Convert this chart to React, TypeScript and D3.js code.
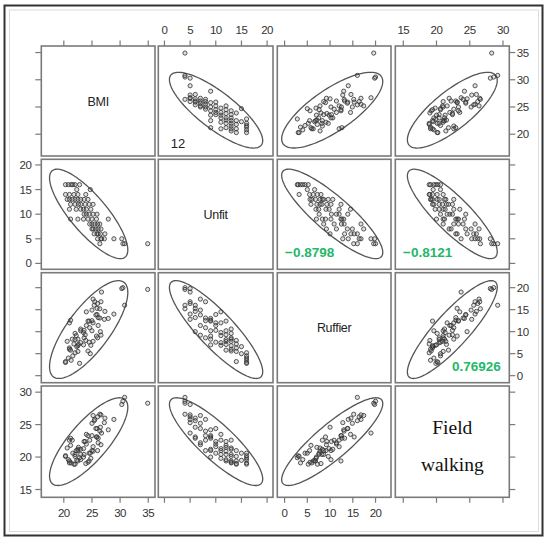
import React from "react";
import * as d3 from "d3";

// ---- data (one entry per subject) ----
const varNames = ["BMI", "Unfit", "Ruffier", "Field walking"];

const bmi = [
  34.9, 30.8, 30.5, 26.4,
  30.3, 26.7, 26.0, 28.9, 27.2, 26.6,
  25.4, 25.9, 26.5, 27.3, 26.1,
  25.2, 25.7, 26.1, 26.6, 25.0,
  25.0, 25.5, 26.0, 26.4, 24.6,
  21.2, 22.5, 23.5, 24.3, 25.0, 25.8, 27.9,
  23.6, 24.5, 25.2, 25.9, 24.0,
  21.0, 22.2, 23.0, 24.0, 24.8, 23.5,
  21.2, 22.0, 23.0, 23.8, 24.5, 25.2, 22.6,
  20.6, 21.0, 21.5, 22.0, 22.5, 23.0, 23.6, 24.3,
  20.3, 21.0, 21.8, 22.5, 23.9,
  24.7, 22.3,
  20.3, 20.8, 21.3, 22.0, 22.8, 21.6,
];

const unfit = [
  4, 4, 4, 4,
  5, 5, 5, 5, 5, 5,
  6, 6, 6, 6, 6,
  7, 7, 7, 7, 7,
  8, 8, 8, 8, 8,
  9, 9, 9, 9, 9, 9, 9,
  10, 10, 10, 10, 10,
  11, 11, 11, 11, 11, 11,
  12, 12, 12, 12, 12, 12, 12,
  13, 13, 13, 13, 13, 13, 13, 13,
  14, 14, 14, 14, 14,
  15, 15,
  16, 16, 16, 16, 16, 16,
];

const ruffier = [
  19.6, 16.0, 20.0, 15.2,
  19.8, 19.0, 16.4, 14.0, 12.8, 16.8,
  16.0, 15.3, 10.0, 14.6, 13.2,
  17.4, 13.8, 11.4, 9.2, 14.9,
  12.5, 16.8, 8.6, 13.1, 10.9,
  12.6, 8.3, 7.0, 12.4, 10.2, 9.0, 13.0,
  10.3, 7.6, 12.0, 13.9, 11.4,
  12.0, 9.1, 7.5, 14.5, 6.9, 9.8,
  5.8, 8.2, 10.2, 9.3, 12.4, 7.8, 7.1,
  7.8, 6.0, 8.3, 9.6, 6.8, 10.6, 8.6, 5.6,
  3.2, 6.3, 7.2, 5.5, 8.0,
  5.0, 6.6,
  3.0, 4.0, 3.5, 5.2, 2.8, 4.5,
];

const fieldWalking = [
  28.3, 29.2, 28.6, 26.6,
  28.1, 23.7, 26.2, 25.8, 25.3, 26.5,
  25.6, 23.1, 24.6, 26.0, 22.9,
  26.4, 24.4, 22.2, 21.9, 25.2,
  23.3, 25.8, 21.0, 24.0, 22.6,
  22.9, 21.2, 20.0, 23.3, 21.0, 23.1, 24.2,
  22.4, 20.6, 21.6, 24.4, 22.0,
  22.6, 21.0, 20.4, 23.5, 19.8, 21.3,
  21.8, 20.4, 19.6, 22.4, 19.4, 20.9, 21.5,
  21.4, 19.1, 22.6, 20.1, 19.4, 21.2, 20.4, 19.2,
  20.1, 19.4, 18.9, 21.0, 19.0,
  20.6, 19.5,
  20.2, 19.6, 19.1, 18.9, 19.9, 20.6,
];

const axisDomains = [
  [16.0, 36.2],
  [-1.2, 21.15],
  [-1.6, 23.4],
  [13.8, 30.95],
];

const tickValues = [
  [20, 25, 30, 35],
  [0, 5, 10, 15, 20],
  [0, 5, 10, 15, 20],
  [15, 20, 25, 30],
];

// correlation annotations
const corrRows = [1, 1, 2];
const corrCols = [2, 3, 3];
const corrTexts = ["\u22120.8798", "\u22120.8121", "0.76926"];

const pageNumber = "12";

// ---- layout ----
const W = 550;
const H = 544;
const colL = [41.3, 158.3, 277.3, 395.3];
const colR = [155, 273, 391, 509.3];
const rowT = [46, 159.3, 272.7, 386];
const rowB = [156, 269.3, 382.7, 497.3];

const columns = [bmi, unfit, ruffier, fieldWalking];
const n = bmi.length;

const xScales = axisDomains.map((d, i) =>
  d3.scaleLinear().domain(d).range([colL[i], colR[i]])
);
const yScales = axisDomains.map((d, i) =>
  d3.scaleLinear().domain(d).range([rowB[i], rowT[i]])
);

// 95% prediction ellipse radius (F quantile with 2 numerator df has closed form)
const df2 = n - 2;
const fq = (df2 / 2) * (Math.pow(0.05, -2 / df2) - 1);
const cRad = Math.sqrt(((2 * (n - 1) * (n + 1)) / (n * (n - 2))) * fq);

function ellipsePath(xi: number, yi: number, xs: any, ys: any) {
  const X = columns[xi];
  const Y = columns[yi];
  const mx = d3.mean(X) as number;
  const my = d3.mean(Y) as number;
  let sxx = 0, syy = 0, sxy = 0;
  for (let k = 0; k < n; k++) {
    sxx += (X[k] - mx) ** 2;
    syy += (Y[k] - my) ** 2;
    sxy += (X[k] - mx) * (Y[k] - my);
  }
  sxx /= n - 1; syy /= n - 1; sxy /= n - 1;
  const l11 = Math.sqrt(sxx);
  const l21 = sxy / l11;
  const l22 = Math.sqrt(Math.max(syy - l21 * l21, 1e-9));
  const pts: [number, number][] = d3.range(0, 121).map((j) => {
    const t = (j / 120) * Math.PI * 2;
    const u = Math.cos(t) * cRad;
    const v = Math.sin(t) * cRad;
    return [xs(mx + l11 * u), ys(my + l21 * u + l22 * v)];
  });
  return d3.line().curve(d3.curveLinearClosed)(pts) as string;
}

const tickFont = "'Liberation Sans', Arial, sans-serif";
const axisColor = "#7a7a7a";

export default function App() {
  const panels: React.ReactNode[] = [];
  for (let r = 0; r < 4; r++) {
    for (let c = 0; c < 4; c++) {
      const key = `p${r}-${c}`;
      const x0 = colL[c], x1 = colR[c], y0 = rowT[r], y1 = rowB[r];
      const content: React.ReactNode[] = [];
      if (r === c) {
        const cx = (x0 + x1) / 2;
        const cy = (y0 + y1) / 2;
        if (r < 3) {
          content.push(
            <text key="lab" x={cx} y={cy + 4.5} textAnchor="middle"
              fontFamily="'Liberation Sans', Arial, sans-serif" fontSize={12.5}
              letterSpacing={-0.3} fill="#222">{varNames[r]}</text>
          );
        } else {
          const words = varNames[r].split(" ");
          content.push(
            <text key="lab" textAnchor="middle" fontFamily="'Liberation Serif', 'Times New Roman', serif"
              fontSize={19.5} fill="#111">
              <tspan x={cx} y={cy - 7.5}>{words[0]}</tspan>
              <tspan x={cx} y={cy + 29}>{words[1]}</tspan>
            </text>
          );
        }
      } else {
        const xs = xScales[c];
        const ys = yScales[r];
        content.push(
          <path key="ell" d={ellipsePath(c, r, xs, ys)} fill="none" stroke="#555" strokeWidth={1.3} />
        );
        const X = columns[c], Y = columns[r];
        for (let k = 0; k < n; k++) {
          content.push(
            <circle key={`c${k}`} cx={xs(X[k])} cy={ys(Y[k])} r={2.1}
              fill="rgba(0,0,0,0.12)" stroke="#3a3a3a" strokeWidth={0.85} />
          );
        }
      }
      panels.push(
        <g key={key}>
          {content}
          <rect x={x0} y={y0} width={x1 - x0} height={y1 - y0} fill="none" stroke={axisColor} strokeWidth={1.6} />
        </g>
      );
    }
  }

  const axes: React.ReactNode[] = [];
  for (let i = 0; i < 4; i++) {
    const xs = xScales[i];
    const ys = yScales[i];
    tickValues[i].forEach((v, j) => {
      const x = xs(v);
      const y = ys(v);
      axes.push(<line key={`t${i}-${j}`} x1={x} x2={x} y1={rowT[0] - 5.5} y2={rowT[0]} stroke={axisColor} strokeWidth={1.2} />);
      axes.push(<line key={`b${i}-${j}`} x1={x} x2={x} y1={rowB[3]} y2={rowB[3] + 5.5} stroke={axisColor} strokeWidth={1.2} />);
      axes.push(<line key={`l${i}-${j}`} x1={colL[0] - 6} x2={colL[0]} y1={y} y2={y} stroke={axisColor} strokeWidth={1.2} />);
      axes.push(<line key={`r${i}-${j}`} x1={colR[3]} x2={colR[3] + 6} y1={y} y2={y} stroke={axisColor} strokeWidth={1.2} />);
      if (i % 2 === 1) {
        axes.push(<text key={`tt${i}-${j}`} x={x} y={rowT[0] - 12} textAnchor="middle" fontFamily={tickFont} fontSize={11.5} letterSpacing={-0.5} fill="#333">{v}</text>);
        axes.push(<text key={`lt${i}-${j}`} x={colL[0] - 10} y={y + 4} textAnchor="end" fontFamily={tickFont} fontSize={11.5} letterSpacing={-0.5} fill="#333">{v}</text>);
      } else {
        axes.push(<text key={`bt${i}-${j}`} x={x} y={rowB[3] + 20} textAnchor="middle" fontFamily={tickFont} fontSize={11.5} letterSpacing={-0.5} fill="#333">{v}</text>);
        axes.push(<text key={`rt${i}-${j}`} x={colR[3] + 7.5} y={y + 4} textAnchor="start" fontFamily={tickFont} fontSize={11.5} letterSpacing={-0.5} fill="#333">{v}</text>);
      }
    });
  }

  const corrs = corrTexts.map((t, k) => {
    const r = corrRows[k], c = corrCols[k];
    const right = r === 2;
    return (
      <text key={`corr${k}`} x={right ? colR[c] - 8.6 : colL[c] + 7.8}
        y={right ? rowB[r] - 11.7 : rowB[r] - 12.6}
        textAnchor={right ? "end" : "start"}
        fontFamily="'Liberation Sans', Arial, sans-serif" fontWeight="bold" fontSize={13.5}
        fill="#1fb86a">{t}</text>
    );
  });

  return (
    <svg width={W} height={H} style={{ position: "absolute", left: 0, top: 0, background: "#fff" }}>
      <rect x={0} y={0} width={W} height={H} fill="#fff" />
      <rect x={4.5} y={5.5} width={538} height={530} fill="none" stroke="#333" strokeWidth={2} />
      <rect x={9.5} y={10} width={529} height={521.5} fill="none" stroke="#dcdcdc" strokeWidth={1} />
      {panels}
      {axes}
      {corrs}
      <text x={colL[1] + 12.4} y={rowB[0] - 7.7} fontFamily="'Liberation Sans', Arial, sans-serif"
        fontSize={13} fill="#222">{pageNumber}</text>
    </svg>
  );
}
